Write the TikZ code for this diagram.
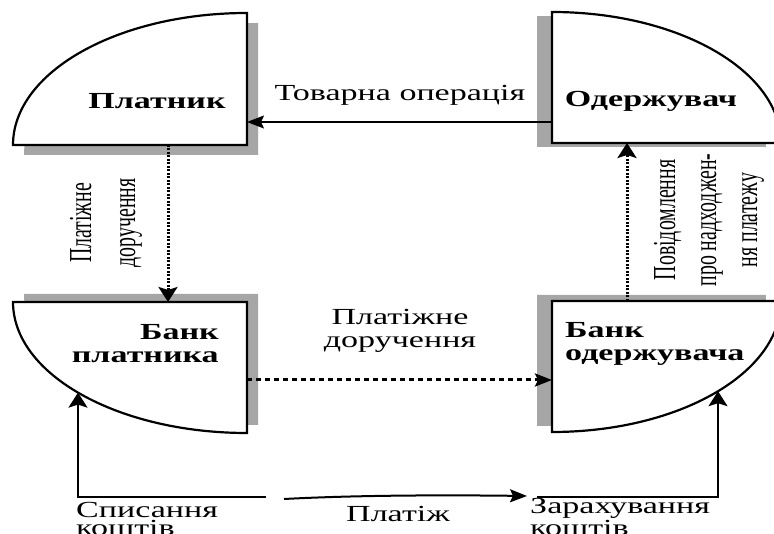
\documentclass[tikz,border=0pt]{standalone}
\usepackage{fontspec}
\setmainfont[FakeStretch=1.48]{Liberation Serif}
\newfontfamily\rotfont[FakeStretch=0.62]{Liberation Serif}
\usetikzlibrary{arrows.meta}
\tikzset{
  shadowfill/.style={fill=black!35, draw=none},
  boxshape/.style={draw=black, fill=white, line width=2.2pt, line join=miter},
  lbl/.style={font=\fontsize{23}{23}\selectfont, inner sep=0pt},
  botlbl/.style={font=\fontsize{23}{17.5}\selectfont, inner sep=0pt, anchor=base west, align=left},
  blbl/.style={font=\fontsize{23}{23}\selectfont\bfseries, inner sep=0pt},
  rotlbl/.style={font=\rotfont\fontsize{32}{41}\selectfont, inner sep=0pt, rotate=90, align=center},
  htip/.style={-{Stealth[length=17pt,width=13pt,inset=3pt]}},
  vtip/.style={-{Stealth[length=15pt,width=19pt,inset=3pt]}},
  vdots/.style={line width=3pt, dash pattern=on 2pt off 1.5pt},
  hdots/.style={line width=3pt, dash pattern=on 5pt off 4pt},
  solidline/.style={line width=2pt}
}
\begin{document}
\begin{tikzpicture}[x=1pt,y=-1pt]
\useasboundingbox (0,0) rectangle (774,534);
\clip (0,0) rectangle (774,534);
\fill[white] (0,0) rectangle (774,534);

% shadows
\path[shadowfill, shift={(11,10)}] (247,13) -- (247,145) -- (13,145) arc[start angle=180, end angle=270, x radius=234, y radius=132] -- cycle;
\path[shadowfill, shift={(-15,4)}] (552,143) -- (552,12) arc[start angle=270, end angle=360, x radius=229, y radius=131] -- cycle;
\path[shadowfill, shift={(11,-8)}] (13,302) -- (247,302) -- (247,433) arc[start angle=90, end angle=180, x radius=234, y radius=131] -- cycle;
\path[shadowfill, shift={(-15,-6)}] (552,432) -- (552,301) -- (781,301) arc[start angle=0, end angle=90, x radius=229, y radius=131] -- cycle;

% shapes
\path[boxshape] (247,13) -- (247,145) -- (13,145) arc[start angle=180, end angle=270, x radius=234, y radius=132] -- cycle;
\path[boxshape] (552,143) -- (552,12) arc[start angle=270, end angle=360, x radius=229, y radius=131] -- cycle;
\path[boxshape] (13,302) -- (247,302) -- (247,433) arc[start angle=90, end angle=180, x radius=234, y radius=131] -- cycle;
\path[boxshape] (552,432) -- (552,301) -- (781,301) arc[start angle=0, end angle=90, x radius=229, y radius=131] -- cycle;

% connection points
\coordinate (plR) at (247,122);
\coordinate (odL) at (552,122);
\coordinate (plB) at (168,145);
\coordinate (bpT) at (168,302);
\coordinate (bpR) at (247,380);
\coordinate (boL) at (552,380);
\coordinate (boT) at (627,301);
\coordinate (odB) at (627,143);
\coordinate (bpC) at (78,392.6);
\coordinate (spK) at (78,497);
\coordinate (spE) at (266,497);
\coordinate (pS) at (284,499);
\coordinate (pE) at (527,496);
\coordinate (zrS) at (537,497);
\coordinate (zrK) at (718,497);
\coordinate (boC) at (718,391.2);

% labels
\node[blbl] (plat) at (157,101) {Платник};
\node[blbl] (oder) at (651,101) {Одержувач};
\node[blbl, anchor=east, align=right] (bpl) at (219,344) {Банк\\платника};
\node[blbl, anchor=west, align=left] (bod) at (565,344) {Банк\\одержувача};
\node[lbl] (tov) at (400,95) {Товарна операція};
\node[lbl, align=center] (pdm) at (400,331) {Платіжне\\доручення};
\node[rotlbl, font=\rotfont\fontsize{32}{44}\selectfont] (pdl) at (106,223) {Платіжне\\доручення};
\node[rotlbl] (pov) at (709,220) {Повідомлення\\про надходжен-\\ня платежу};
\node[botlbl] (spy) at (76,535) {Списання\\коштів};
\node[lbl, anchor=base] (plz) at (398,521) {Платіж};
\node[botlbl] (zar) at (530,535) {Зарахування\\коштів};

% connectors
\draw[line width=1.5pt, htip] (odL) -- (plR);
\draw[vdots, vtip] (plB) -- (bpT);
\draw[hdots, htip] (bpR) -- (boL);
\draw[vdots, vtip] (boT) -- (odB);
\draw[solidline, vtip] (spE) -- (spK) -- (bpC);
\draw[solidline, vtip] (zrS) -- (zrK) -- (boC);
\draw[solidline, htip] (pS) .. controls (360,495) and (450,495) .. (pE);
\end{tikzpicture}
\end{document}
